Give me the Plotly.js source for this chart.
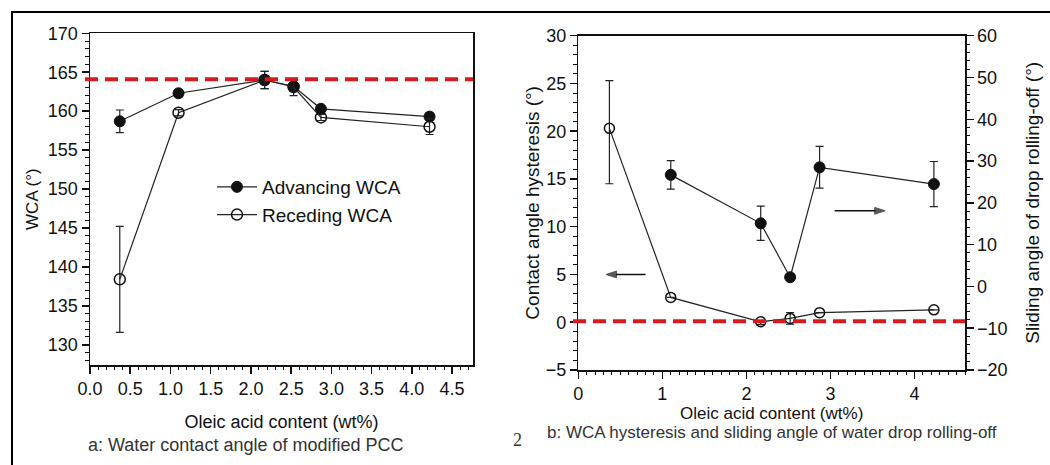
<!DOCTYPE html>
<html>
<head>
<meta charset="utf-8">
<script src="https://cdn.plot.ly/plotly-3.0.1.min.js"></script>
<style>html,body{margin:0;padding:0;background:#fff;}#chart{width:1050px;height:465px;}</style>
</head>
<body>
<div id="chart"></div>
<script>
// ---- Panel a: water contact angle ----
var oleicA = [0.37, 1.10, 2.17, 2.53, 2.87, 4.22];
var advancingWCA = [158.7, 162.3, 164.0, 163.2, 160.3, 159.3];
var advancingErr = [1.45, 0.45, 1.1, 0.4, 0.4, 0.5];
var recedingWCA = [138.4, 159.8, 164.0, 163.1, 159.2, 158.0];
var recedingErr = [6.8, 0.4, 1.1, 1.1, 0.4, 1.0];
var superhydrophobicLineA = 164.1;

// ---- Panel b: hysteresis and sliding angle ----
var oleicHyst = [0.37, 1.10, 2.17, 2.52, 2.87, 4.23];
var hysteresis = [20.3, 2.6, 0.05, 0.4, 1.0, 1.3];
var hystErrPlus = [5.0, 0, 0, 0.6, 0, 0];
var hystErrMinus = [5.8, 0, 0.3, 0.6, 0, 0];
var oleicSlide = [1.10, 2.17, 2.52, 2.87, 4.23];
var slidingAngle = [26.7, 15.1, 2.2, 28.5, 24.5];
var slidingErr = [3.4, 4.1, 0, 5.0, 5.4];
var zeroLineB = 0.1;

// axis-pointer arrows (tail, head)
var arrowLeftX = [0.80, 0.33];
var arrowLeftY = [5, 5];          // on left axis of panel b
var arrowRightX = [3.05, 3.65];
var arrowRightY = [18.1, 18.1];   // on right axis of panel b

var W = 1050, H = 465;
function px(x){return x / W;}
function py(y){return 1 - y / H;}

var FONT = 'Liberation Sans, Arial, sans-serif';
var INK = '#111';

var traces = [
  {
    x: oleicA, y: advancingWCA, name: 'Advancing WCA', type: 'scatter', mode: 'lines+markers',
    xaxis: 'x', yaxis: 'y',
    line: {color: '#222', width: 1.2},
    marker: {symbol: 'circle', size: 11, color: '#111', line: {color: '#111', width: 1}},
    error_y: {type: 'data', array: advancingErr, visible: true, color: '#222', thickness: 1.2, width: 4}
  },
  {
    x: oleicA, y: recedingWCA, name: 'Receding WCA', type: 'scatter', mode: 'lines+markers',
    xaxis: 'x', yaxis: 'y',
    line: {color: '#222', width: 1.2},
    marker: {symbol: 'circle-open', size: 11, color: '#111', line: {color: '#111', width: 1.5}},
    error_y: {type: 'data', array: recedingErr, visible: true, color: '#222', thickness: 1.2, width: 4}
  },
  {
    x: oleicHyst, y: hysteresis, name: 'Contact angle hysteresis', type: 'scatter', mode: 'lines+markers',
    xaxis: 'x2', yaxis: 'y2', showlegend: false,
    line: {color: '#222', width: 1.2},
    marker: {symbol: 'circle-open', size: 10, color: '#111', line: {color: '#111', width: 1.5}},
    error_y: {type: 'data', symmetric: false, array: hystErrPlus, arrayminus: hystErrMinus, visible: true, color: '#222', thickness: 1.2, width: 4}
  },
  {
    x: oleicSlide, y: slidingAngle, name: 'Sliding angle', type: 'scatter', mode: 'lines+markers',
    xaxis: 'x2', yaxis: 'y3', showlegend: false,
    line: {color: '#222', width: 1.2},
    marker: {symbol: 'circle', size: 11, color: '#111', line: {color: '#111', width: 1}},
    error_y: {type: 'data', array: slidingErr, visible: true, color: '#222', thickness: 1.2, width: 4}
  },
  {
    x: arrowLeftX, y: arrowLeftY, xaxis: 'x2', yaxis: 'y2', type: 'scatter', mode: 'lines+markers',
    showlegend: false, hoverinfo: 'skip', cliponaxis: false,
    line: {color: INK, width: 1.5},
    marker: {symbol: 'arrow', angleref: 'previous', size: [0, 11], color: INK, line: {width: 1, color: INK}}
  },
  {
    x: arrowRightX, y: arrowRightY, xaxis: 'x2', yaxis: 'y3', type: 'scatter', mode: 'lines+markers',
    showlegend: false, hoverinfo: 'skip', cliponaxis: false,
    line: {color: INK, width: 1.5},
    marker: {symbol: 'arrow', angleref: 'previous', size: [0, 11], color: INK, line: {width: 1, color: INK}}
  }
];

var axisCommon = {
  showline: true, linecolor: INK, linewidth: 1.5, mirror: true,
  ticks: 'outside', ticklen: 7, tickwidth: 1.5, tickcolor: INK,
  showgrid: false, zeroline: false, automargin: false
};

var layout = {
  width: W, height: H,
  margin: {l: 0, r: 0, t: 0, b: 0, pad: 0},
  paper_bgcolor: '#fff', plot_bgcolor: '#fff',
  font: {family: FONT, color: INK, size: 18},
  showlegend: true,
  legend: {
    x: px(212), y: py(168), xanchor: 'left', yanchor: 'top',
    itemwidth: 40,
    bgcolor: 'rgba(0,0,0,0)', borderwidth: 0,
    font: {family: FONT, size: 19, color: INK}
  },
  xaxis: Object.assign({}, axisCommon, {
    domain: [px(90), px(473)], anchor: 'y',
    range: [0, 4.76], tick0: 0, dtick: 0.5, tickformat: '.1f',
    tickfont: {family: FONT, size: 18, color: INK},
    minor: {ticks: 'outside', ticklen: 3.5, tickwidth: 1, tickcolor: INK, dtick: 0.1},
    title: {text: 'Oleic acid content (wt%)', font: {family: FONT, size: 18, color: INK}, standoff: 17}
  }),
  yaxis: Object.assign({}, axisCommon, {
    domain: [py(365), py(33.3)], anchor: 'x',
    range: [127.4, 170], tick0: 130, dtick: 5,
    tickfont: {family: FONT, size: 18, color: INK},
    minor: {ticks: 'outside', ticklen: 3.5, tickwidth: 1, tickcolor: INK, dtick: 1},
    title: {text: 'WCA (°)', font: {family: FONT, size: 17, color: INK}, standoff: 5}
  }),
  xaxis2: Object.assign({}, axisCommon, {
    domain: [px(578.3), px(965)], anchor: 'y2',
    range: [0, 4.6], tick0: 0, dtick: 1,
    tickfont: {family: FONT, size: 18, color: INK},
    minor: {ticks: 'outside', ticklen: 3.5, tickwidth: 1, tickcolor: INK, dtick: 0.1},
    title: {text: 'Oleic acid content (wt%)', font: {family: FONT, size: 17, color: INK}, standoff: 2}
  }),
  yaxis2: Object.assign({}, axisCommon, {
    domain: [py(370), py(35.7)], anchor: 'x2', mirror: false,
    range: [-5, 30], tick0: -5, dtick: 5,
    tickfont: {family: FONT, size: 18, color: INK},
    minor: {ticks: 'outside', ticklen: 3.5, tickwidth: 1, tickcolor: INK, dtick: 1},
    title: {text: 'Contact angle hysteresis (°)', font: {family: FONT, size: 19, color: INK}, standoff: 1}
  }),
  yaxis3: Object.assign({}, axisCommon, {
    overlaying: 'y2', side: 'right', anchor: 'x2', mirror: false,
    range: [-20, 60], tick0: -20, dtick: 10,
    tickfont: {family: FONT, size: 18, color: INK},
    minor: {ticks: 'outside', ticklen: 3.5, tickwidth: 1, tickcolor: INK, dtick: 2},
    title: {text: 'Sliding angle of drop rolling-off (°)', font: {family: FONT, size: 19, color: INK}, standoff: 19}
  }),
  shapes: [
    {type: 'line', xref: 'paper', yref: 'y', x0: px(85), x1: px(473), y0: superhydrophobicLineA, y1: superhydrophobicLineA,
     line: {color: '#d71920', width: 4, dash: '13px,7px'}},
    {type: 'line', xref: 'paper', yref: 'y2', x0: px(573), x1: px(965), y0: zeroLineB, y1: zeroLineB,
     line: {color: '#d71920', width: 4, dash: '13px,7px'}},
    {type: 'line', xref: 'paper', yref: 'paper', x0: px(11), x1: 1, y0: py(12), y1: py(12),
     line: {color: '#000', width: 2}},
    {type: 'line', xref: 'paper', yref: 'paper', x0: px(12), x1: px(12), y0: 0, y1: py(12),
     line: {color: '#000', width: 2}}
  ],
  annotations: [
    {x: px(245), y: py(445), xref: 'paper', yref: 'paper', xanchor: 'center', yanchor: 'middle',
     text: 'a: Water contact angle of modified PCC', showarrow: false,
     font: {family: FONT, size: 18, color: '#333'}},
    {x: px(771.5), y: py(432), xref: 'paper', yref: 'paper', xanchor: 'center', yanchor: 'middle',
     text: 'b: WCA hysteresis and sliding angle of water drop rolling-off', showarrow: false,
     font: {family: FONT, size: 17, color: '#333'}},
    {x: px(517), y: py(440), xref: 'paper', yref: 'paper', xanchor: 'center', yanchor: 'middle',
     text: '2', showarrow: false,
     font: {family: 'Liberation Serif, Times New Roman, serif', size: 18, color: '#333'}}
  ]
};

Plotly.newPlot('chart', traces, layout, {displayModeBar: false, staticPlot: true});
</script>
</body>
</html>
